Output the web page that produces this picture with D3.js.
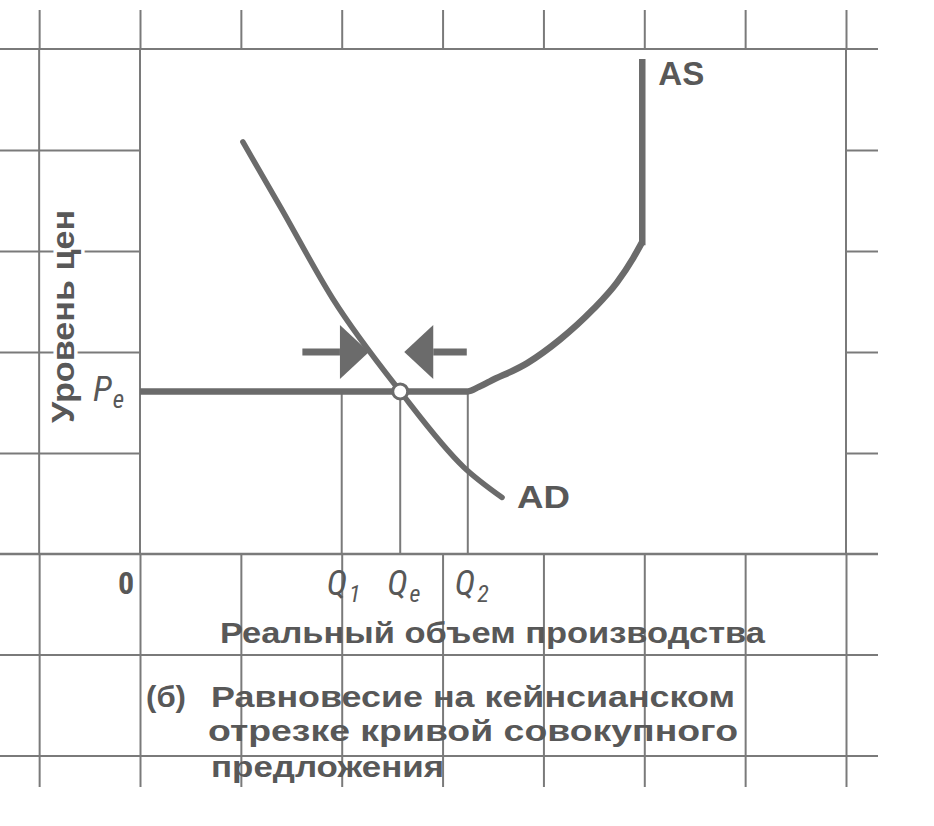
<!DOCTYPE html>
<html>
<head>
<meta charset="utf-8">
<script src="https://cdn.jsdelivr.net/npm/d3@7"></script>
<style>
  html, body { margin: 0; padding: 0; background: #fff; }
  svg { display: block; }
</style>
</head>
<body>
<div id="chart"></div>
<script>
// ---------- data (grid units: one graph-paper cell = 1) ----------
const gridX = [-1, 0, 1, 2, 3, 4, 5, 6, 7];
const gridY = [-2, -1, 0, 1, 2, 3, 4, 5];
const Pe = 1.61;
const qLevels = [2.0, 2.58, 3.25];            // Q1, Qe, Q2
const qNames = ["1", "e", "2"];
const asCurveX = [0, 3.25, 3.36, 3.47, 3.84, 4.16, 4.49, 4.73, 4.89, 4.98];
const asCurveY = [1.61, 1.61, 1.655, 1.71, 1.89, 2.12, 2.42, 2.69, 2.93, 3.09];
const asVerticalY = [3.09, 4.87];
const adX = [1.02, 1.39, 1.91, 2.58, 3.21, 3.59];
const adY = [4.08, 3.44, 2.53, 1.61, 0.86, 0.56];
const arrowY = 2.0;
const arrowFrom = [1.61, 3.24];
const arrowTo = [2.27, 2.62];
const yLabel = "Уровень цен";
const xLabel = "Реальный объем производства";
const captionTag = "(б)";
const captionLines = ["Равновесие на кейнсианском", "отрезке кривой совокупного", "предложения"];

// ---------- setup ----------
const W = 934, H = 826;
const svg = d3.select("#chart").append("svg").attr("width", W).attr("height", H);
svg.append("rect").attr("width", W).attr("height", H).attr("fill", "#fff");

const x = d3.scaleLinear().domain([0, 7]).range([140, 846]);
const y = d3.scaleLinear().domain([0, 5]).range([554, 49]);

const gridCol = "#7a7a7a";
const inkCol = "#6b6b6b";
const textCol = "#585858";
const edgeTop = 10, edgeBottom = 787, edgeLeft = 0, edgeRight = 878;
const sans = "'Liberation Sans', Arial, Helvetica, sans-serif";
const ital = "'Liberation Sans Narrow', 'Roboto Condensed', 'Liberation Sans', Arial, sans-serif";

// ---------- graph-paper grid via axes ----------
function clean(g) {
  g.select(".domain").remove();
  g.selectAll(".tick line").attr("stroke", gridCol).attr("stroke-width", 2);
  g.selectAll("text").remove();
}
svg.append("g").attr("transform", `translate(0,${y(5)})`)
  .call(d3.axisTop(x).tickValues(gridX).tickSize(y(5) - edgeTop).tickFormat(""))
  .call(clean);
svg.append("g").attr("transform", `translate(0,${y(0)})`)
  .call(d3.axisBottom(x).tickValues(gridX).tickSize(edgeBottom - y(0)).tickFormat(""))
  .call(clean);
svg.append("g").attr("transform", `translate(${x(0)},0)`)
  .call(d3.axisLeft(y).tickValues([1, 2, 3, 4]).tickSize(x(0) - edgeLeft).tickFormat(""))
  .call(clean);
svg.append("g").attr("transform", `translate(${x(7)},0)`)
  .call(d3.axisRight(y).tickValues([1, 2, 3, 4]).tickSize(edgeRight - x(7)).tickFormat(""))
  .call(clean);
// full-length lines
svg.append("g").selectAll("line").data([-1, 0, 7]).join("line")
  .attr("x1", d => x(d)).attr("x2", d => x(d))
  .attr("y1", y(5)).attr("y2", y(0))
  .attr("stroke", gridCol).attr("stroke-width", 2);
svg.append("g").selectAll("line").data([5, 0, -1, -2]).join("line")
  .attr("x1", edgeLeft).attr("x2", edgeRight)
  .attr("y1", d => y(d)).attr("y2", d => y(d))
  .attr("stroke", gridCol).attr("stroke-width", d => d === 0 ? 2.6 : 2);

// ---------- drop lines at Q1, Qe, Q2 ----------
svg.append("g").selectAll("line").data(qLevels).join("line")
  .attr("x1", d => x(d)).attr("x2", d => x(d))
  .attr("y1", y(Pe)).attr("y2", y(0))
  .attr("stroke", gridCol).attr("stroke-width", 2);

// ---------- AS curve ----------
const asEndX = asCurveX[asCurveX.length - 1];
svg.append("path")
  .attr("d", d3.line().x(d => x(d[0])).y(d => y(d[1])).curve(d3.curveMonotoneX)(asCurveX.map((v, i) => [v, asCurveY[i]])))
  .attr("fill", "none").attr("stroke", inkCol).attr("stroke-width", 6.5);
svg.append("path")
  .attr("d", d3.line().x(d => x(d[0])).y(d => y(d[1]))(asVerticalY.map(v => [asEndX, v])))
  .attr("fill", "none").attr("stroke", inkCol).attr("stroke-width", 6.5).attr("stroke-linecap", "square");

// ---------- arrows ----------
const headLen = 29, headHalf = 27;
arrowFrom.forEach((f, i) => {
  const t = arrowTo[i];
  const dir = t > f ? 1 : -1;
  const xt = x(t), xf = x(f), yy = y(arrowY);
  const xb = xt - dir * headLen;
  svg.append("line").attr("x1", xf).attr("x2", xb).attr("y1", yy).attr("y2", yy)
    .attr("stroke", inkCol).attr("stroke-width", 7);
  svg.append("path")
    .attr("d", `M${xt},${yy}L${xb},${yy - headHalf}L${xb},${yy + headHalf}Z`)
    .attr("fill", inkCol);
});

// ---------- AD curve ----------
svg.append("path")
  .attr("d", d3.line().x(d => x(d[0])).y(d => y(d[1])).curve(d3.curveMonotoneX)(adX.map((v, i) => [v, adY[i]])))
  .attr("fill", "none").attr("stroke", inkCol).attr("stroke-width", 5.5).attr("stroke-linecap", "round");

// ---------- equilibrium point ----------
svg.append("circle").attr("cx", x(qLevels[1])).attr("cy", y(Pe)).attr("r", 7.5)
  .attr("fill", "#fff").attr("stroke", inkCol).attr("stroke-width", 3);

// ---------- labels ----------
function fit(sel, len) { sel.attr("textLength", len).attr("lengthAdjust", "spacingAndGlyphs"); }

svg.append("text").text("AS")
  .attr("x", x(asEndX) + 16).attr("y", 85)
  .attr("font-family", sans).attr("font-weight", "bold")
  .attr("font-size", 34).attr("fill", textCol).call(fit, 46);
svg.append("text").text("AD")
  .attr("x", x(adX[adX.length - 1]) + 15).attr("y", 508)
  .attr("font-family", sans).attr("font-weight", "bold")
  .attr("font-size", 32).attr("fill", textCol).call(fit, 53);

// y-axis title
svg.append("text").text(yLabel)
  .attr("transform", `translate(74,${(210 + 423) / 2}) rotate(-90)`)
  .attr("text-anchor", "middle")
  .attr("font-family", sans).attr("font-weight", "bold").attr("font-size", 31)
  .attr("fill", textCol)
  .attr("stroke", "#fff").attr("stroke-width", 7).attr("paint-order", "stroke")
  .call(fit, 213);

// Pe
const pe = svg.append("text").attr("x", 93).attr("y", y(Pe) + 10)
  .attr("font-family", ital).attr("font-style", "italic").attr("font-size", 35).attr("fill", textCol);
pe.append("tspan").text("P");
pe.append("tspan").text("e").attr("font-size", 25).attr("dy", 7).attr("dx", 1);

// origin 0
svg.append("text").text("0").attr("x", x(0) - 14).attr("y", 594)
  .attr("text-anchor", "middle")
  .attr("font-family", ital).attr("font-weight", "bold").attr("font-size", 32).attr("fill", textCol);

// Q labels
qLevels.forEach((q, i) => {
  const t = svg.append("text").attr("x", x(q) - [15, 13, 13][i]).attr("y", 595)
    .attr("font-family", ital).attr("font-style", "italic").attr("font-size", 35).attr("fill", textCol);
  t.append("tspan").text("Q");
  t.append("tspan").text(qNames[i]).attr("font-size", 24).attr("dy", 7).attr("dx", 2);
});

// x-axis title
svg.append("text").text(xLabel).attr("x", 220).attr("y", 643)
  .attr("font-family", sans).attr("font-weight", "bold").attr("font-size", 30).attr("fill", textCol)
  .call(fit, 545);

// caption
svg.append("text").text(captionTag).attr("x", 146).attr("y", 707)
  .attr("font-family", sans).attr("font-weight", "bold").attr("font-size", 30).attr("fill", textCol)
  .call(fit, 40);
const capX = [211, 208, 211], capY = [707, 741, 777], capW = [524, 530, 233];
captionLines.forEach((s, i) => {
  svg.append("text").text(s).attr("x", capX[i]).attr("y", capY[i])
    .attr("font-family", sans).attr("font-weight", "bold").attr("font-size", 30).attr("fill", textCol)
    .call(fit, capW[i]);
});
</script>
</body>
</html>
